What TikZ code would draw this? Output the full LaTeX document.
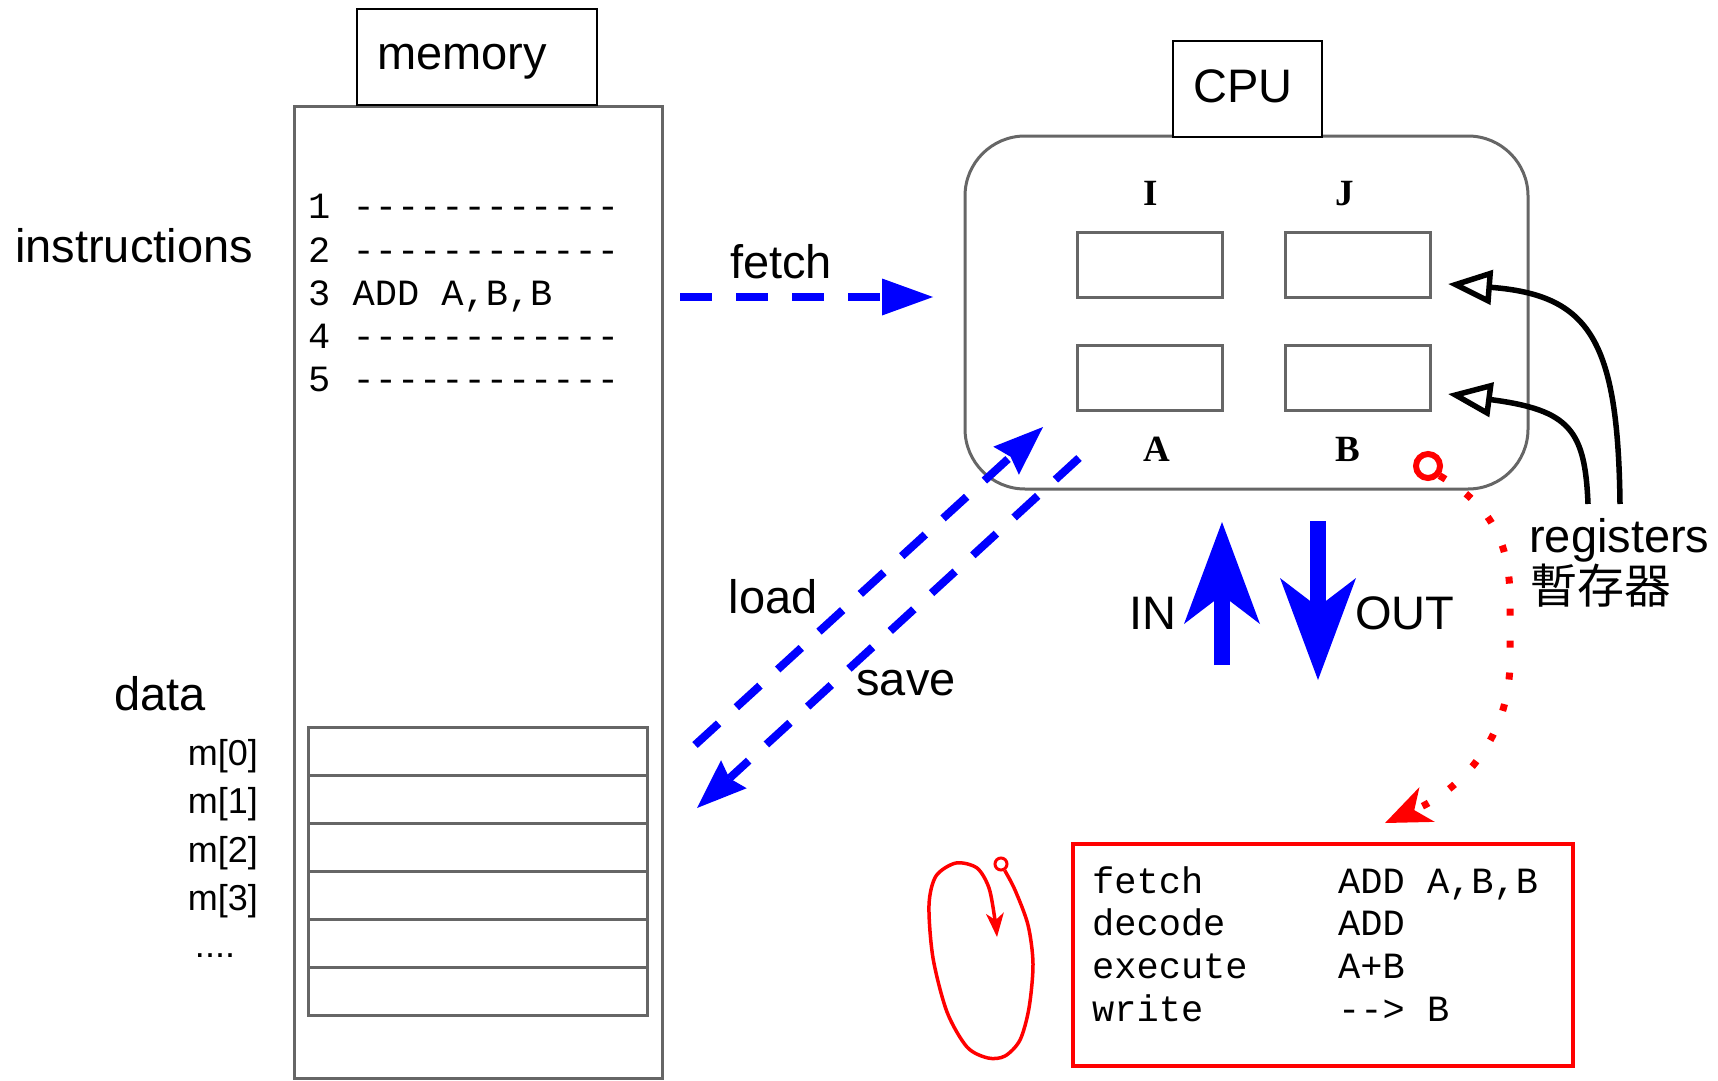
\documentclass[tikz,border=0pt]{standalone}
\usepackage{fontspec}
\setmainfont{Liberation Sans}
\newfontfamily\codefont{Liberation Mono}[Ligatures=TeXOff]
\newfontfamily\regfont{Liberation Serif}
\newfontfamily\cjkfont{Noto Sans CJK TC}
\usetikzlibrary{arrows.meta}
\definecolor{boxgray}{HTML}{666666}
\definecolor{pureblue}{HTML}{0000FF}
\definecolor{purered}{HTML}{FF0000}
\tikzset{
  lbl/.style={font=\fontsize{47}{56}\selectfont, inner sep=0pt, anchor=base},
  smalllbl/.style={font=\fontsize{36}{43}\selectfont, inner sep=0pt, anchor=base east},
  code/.style={font=\codefont\fontsize{37}{44}\selectfont, inner sep=0pt, anchor=base west},
  regname/.style={font=\regfont\bfseries\fontsize{37}{44}\selectfont, inner sep=0pt, anchor=base},
  titlebox/.style={draw=black, line width=2pt, fill=white, inner sep=0pt},
  regbox/.style={draw=boxgray, line width=3pt, minimum width=145pt, minimum height=65pt, inner sep=0pt},
  cellbox/.style={draw=boxgray, line width=3pt, minimum width=339pt, minimum height=48pt, inner sep=0pt},
  bluedash/.style={draw=pureblue, line width=8pt, dash pattern=on 32pt off 24pt},
  ioarrow/.style={draw=pureblue, line width=16pt, -{Stealth[length=102pt,width=76pt,inset=29pt,line width=0pt]}},
  regarrow/.style={draw=black, line width=5.5pt, -{Triangle[open,length=44pt,width=34pt,fill=white]}},
  reddots/.style={draw=purered, line width=7pt, dash pattern=on 7pt off 25pt, -{Stealth[length=46pt,width=38pt,inset=14pt,line width=0pt]}},
  redloop/.style={draw=purered, line width=3.5pt, -{Stealth[length=24pt,width=18pt,inset=7pt,line width=0pt]}}
}
\begin{document}
\begin{tikzpicture}[x=1pt,y=-1pt]
\useasboundingbox (0,0) rectangle (1718,1081);

% ---------- memory ----------
\node[draw=boxgray, line width=3pt, minimum width=368pt, minimum height=972pt, inner sep=0pt] (mem) at (478,592) {};
\node[titlebox, minimum width=240pt, minimum height=96pt] (memlbl) at (477,57) {};
\node[lbl] (memtxt) at (462,70) {memory};

\node[lbl] (instr) at (134,262) {instructions};
\node[code] (l1) at (308,218) {1 ------------};
\node[code] (l2) at (308,262) {2 ------------};
\node[code] (l3) at (308,305) {3 ADD A,B,B};
\node[code] (l4) at (308,348) {4 ------------};
\node[code] (l5) at (308,391) {5 ------------};

\node[lbl] (data) at (160,710) {data};
\foreach \i in {0,...,5}{
  \node[cellbox] (c\i) at (477.5,{751+48*\i}) {};
}
\node[smalllbl] (m0) at (258,765) {m[0]};
\node[smalllbl] (m1) at (258,813) {m[1]};
\node[smalllbl] (m2) at (258,862) {m[2]};
\node[smalllbl] (m3) at (258,910) {m[3]};
\node[smalllbl, anchor=base] (mdots) at (215,957) {....};

% ---------- CPU ----------
\node[draw=boxgray, line width=3pt, rounded corners=60pt, minimum width=563pt, minimum height=353pt, inner sep=0pt] (cpu) at (1246.5,312.5) {};
\node[titlebox, minimum width=149pt, minimum height=96pt] (cpulbl) at (1247.5,89) {};
\node[lbl] (cputxt) at (1243,102) {CPU};

\node[regbox] (rI) at (1149.5,264.5) {};
\node[regbox] (rJ) at (1357.5,264.5) {};
\node[regbox] (rA) at (1149.5,377.5) {};
\node[regbox] (rB) at (1357.5,377.5) {};
\node[regname] (tI) at (1151,205) {I};
\node[regname] (tJ) at (1345,205) {J};
\node[regname] (tA) at (1157,461) {A};
\node[regname] (tB) at (1348,461) {B};

% ---------- fetch / load / save ----------
\coordinate (fetchS) at (680,297);
\coordinate (fetchE) at (933,297);
\draw[bluedash, -{Triangle[length=51pt,width=37pt,line width=0pt]}] (fetchS) -- (fetchE);
\node[lbl] (fetchtxt) at (781,278) {fetch};

\coordinate (loadS) at (695,745);
\coordinate (loadE) at (1043,427);
\draw[bluedash, -{Stealth[length=50pt,width=38pt,inset=6pt,line width=0pt]}] (loadS) -- (loadE);
\coordinate (saveS) at (1079,458);
\coordinate (saveE) at (697,808);
\draw[bluedash, -{Stealth[length=50pt,width=38pt,inset=6pt,line width=0pt]}] (saveS) -- (saveE);
\node[lbl] (loadtxt) at (773,613) {load};
\node[lbl] (savetxt) at (906,695) {save};

% ---------- IN / OUT ----------
\coordinate (inS) at (1222,665);
\coordinate (inE) at (1222,522);
\draw[ioarrow] (inS) -- (inE);
\coordinate (outS) at (1318,521);
\coordinate (outE) at (1318,680);
\draw[ioarrow] (outS) -- (outE);
\node[lbl] (intxt) at (1153,629) {IN};
\node[lbl] (outtxt) at (1405,629) {OUT};

% ---------- registers ----------
\node[lbl, anchor=base west] (regtxt) at (1529,552) {registers};
\node[lbl, anchor=base west] (regcjk) at (1530,603) {\cjkfont 暫存器};
\coordinate (raJ) at (1620,504);
\coordinate (raB) at (1588,504);
\coordinate (tipJ) at (1448,284);
\coordinate (tipB) at (1448,394);
\draw[regarrow] (raJ) .. controls (1618,340) and (1590,295) .. (tipJ);
\draw[regarrow] (raB) .. controls (1585,430) and (1570,410) .. (tipB);

% ---------- red annotations ----------
\node[circle, draw=purered, line width=6pt, minimum size=24pt, inner sep=0pt] (rc) at (1428,466) {};
\coordinate (redE) at (1385,823);
\draw[reddots] (rc.-40) .. controls (1490,505) and (1510,540) .. (1510,600) -- (1510,660) .. controls (1510,740) and (1460,790) .. (redE);

\node[draw=purered, line width=4pt, minimum width=500pt, minimum height=222pt, inner sep=0pt] (rbox) at (1323,955) {};
\node[code] (s1) at (1092,893) {fetch};
\node[code] (s2) at (1092,935) {decode};
\node[code] (s3) at (1092,978) {execute};
\node[code] (s4) at (1092,1021) {write};
\node[code] (v1) at (1338,893) {ADD A,B,B};
\node[code] (v2) at (1338,935) {ADD};
\node[code] (v3) at (1338,978) {A+B};
\node[code] (v4) at (1338,1021) {--> B};

\node[circle, draw=purered, line width=3pt, minimum size=12pt, inner sep=0pt] (lc) at (1001,864) {};
\draw[redloop] plot[smooth] coordinates {(lc.-60) (1015,890) (1028,925) (1033,964) (1029,1008) (1020,1040) (1005,1056) (988,1058) (967,1047) (947,1012) (933,958) (929,905) (936,876) (956,863) (977,868) (989,888) (995,920) (997,937)};
\end{tikzpicture}
\end{document}
